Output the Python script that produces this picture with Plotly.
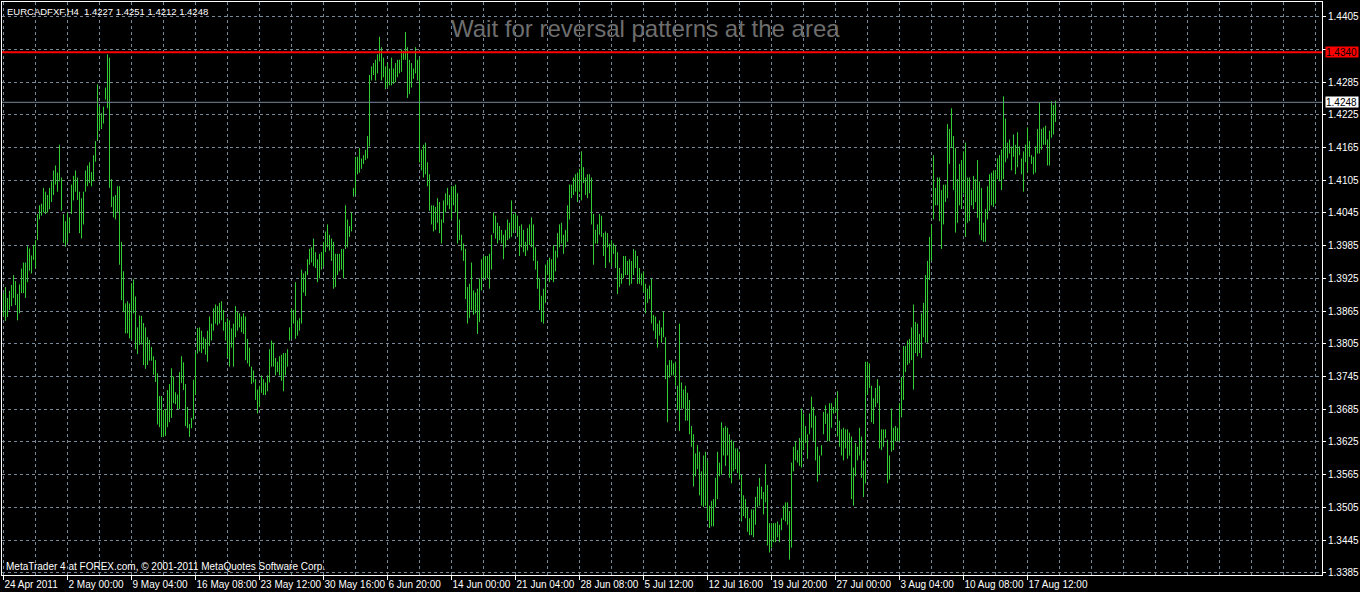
import plotly.graph_objects as go

SYMBOL_HEADER = "EURCADFXF,H4\u00a0\u00a01.4227 1.4251 1.4212 1.4248"
TITLE = "Wait for reversal patterns at the area"
COPYRIGHT = "MetaTrader 4 at FOREX.com, \u00a9 2001-2011 MetaQuotes Software Corp."
RESISTANCE = 1.4340
LAST_PRICE = 1.4248

HIGH = [
    1.3898,1.3909,1.3889,1.3902,1.3913,1.3931,1.3920,1.3896,1.3914,1.3943,1.3954,1.3954,1.3984,1.3980,1.3967,1.3986,
    1.3995,1.4043,1.4059,1.4062,1.4091,1.4084,1.4078,1.4091,1.4103,1.4123,1.4132,1.4119,1.4170,1.4110,1.4043,1.4030,
    1.4046,1.4037,1.4097,1.4113,1.4123,1.4110,1.4084,1.4072,1.4084,1.4123,1.4132,1.4138,1.4120,1.4151,1.4177,1.4281,
    1.4240,1.4228,1.4240,1.4275,1.4336,1.4330,1.4107,1.4075,1.4078,1.4094,1.4094,1.3992,1.3938,1.3879,1.3883,1.3879,
    1.3916,1.3923,1.3892,1.3835,1.3857,1.3856,1.3843,1.3835,1.3817,1.3812,1.3799,1.3782,1.3775,1.3751,1.3709,1.3709,
    1.3683,1.3685,1.3720,1.3731,1.3760,1.3745,1.3716,1.3712,1.3753,1.3782,1.3771,1.3731,1.3689,1.3658,1.3669,1.3739,
    1.3790,1.3834,1.3835,1.3829,1.3817,1.3814,1.3829,1.3855,1.3842,1.3870,1.3877,1.3874,1.3880,1.3883,1.3867,1.3845,
    1.3852,1.3848,1.3833,1.3842,1.3874,1.3864,1.3861,1.3855,1.3861,1.3855,1.3814,1.3798,1.3763,1.3756,1.3740,1.3721,
    1.3728,1.3747,1.3740,1.3734,1.3747,1.3795,1.3811,1.3807,1.3779,1.3772,1.3782,1.3785,1.3788,1.3788,1.3795,1.3835,
    1.3870,1.3867,1.3918,1.3848,1.3852,1.3941,1.3934,1.3938,1.3960,1.3979,1.3982,1.3998,1.3973,1.3960,1.3970,1.3973,
    1.3992,1.4011,1.4024,1.4005,1.3998,1.3992,1.3970,1.3970,1.3970,1.3979,1.3979,1.4059,1.4033,1.4021,1.4046,1.4091,
    1.4148,1.4148,1.4164,1.4145,1.4151,1.4161,1.4186,1.4298,1.4314,1.4320,1.4326,1.4336,1.4368,1.4349,1.4330,1.4314,
    1.4320,1.4310,1.4330,1.4310,1.4320,1.4326,1.4326,1.4345,1.4342,1.4377,1.4349,1.4326,1.4320,1.4310,1.4349,1.4326,
    1.4330,1.4161,1.4170,1.4174,1.4138,1.4116,1.4059,1.4059,1.4056,1.4072,1.4065,1.4033,1.4068,1.4081,1.4091,1.4078,
    1.4094,1.4094,1.4097,1.4081,1.4033,1.4005,1.3989,1.3979,1.3909,1.3915,1.3954,1.3903,1.3899,1.3906,1.3925,1.3960,
    1.3966,1.3966,1.3966,1.3970,1.4005,1.4046,1.4040,1.4027,1.4021,1.4014,1.4005,1.4014,1.4033,1.4027,1.4068,1.4043,
    1.4046,1.4040,1.4021,1.4024,1.4014,1.3992,1.4017,1.4024,1.4037,1.4024,1.3982,1.3957,1.3925,1.3893,1.3906,1.3950,
    1.3957,1.3963,1.3960,1.3986,1.3976,1.4008,1.4024,1.4027,1.4005,1.4014,1.4059,1.4097,1.4097,1.4110,1.4116,1.4119,
    1.4126,1.4158,1.4129,1.4110,1.4116,1.4116,1.4110,1.4043,1.4014,1.4024,1.4043,1.4040,1.4008,1.4011,1.4008,1.3989,
    1.3995,1.3989,1.3986,1.3973,1.3944,1.3934,1.3966,1.3966,1.3957,1.3960,1.3957,1.3979,1.3976,1.3966,1.3944,1.3934,
    1.3938,1.3915,1.3906,1.3912,1.3925,1.3858,1.3855,1.3842,1.3848,1.3835,1.3864,1.3817,1.3766,1.3775,1.3775,1.3769,
    1.3772,1.3728,1.3842,1.3734,1.3721,1.3728,1.3715,1.3702,1.3654,1.3639,1.3604,1.3619,1.3607,1.3571,1.3600,1.3607,
    1.3591,1.3508,1.3517,1.3520,1.3559,1.3607,1.3587,1.3661,1.3651,1.3654,1.3651,1.3639,1.3629,1.3626,1.3613,1.3613,
    1.3607,1.3565,1.3527,1.3520,1.3505,1.3485,1.3501,1.3501,1.3524,1.3543,1.3559,1.3543,1.3533,1.3584,1.3546,1.3476,
    1.3476,1.3476,1.3476,1.3479,1.3473,1.3485,1.3508,1.3514,1.3514,1.3498,1.3587,1.3616,1.3626,1.3610,1.3632,1.3686,
    1.3677,1.3654,1.3639,1.3677,1.3708,1.3689,1.3673,1.3616,1.3600,1.3619,1.3680,1.3692,1.3677,1.3696,1.3696,1.3689,
    1.3705,1.3718,1.3664,1.3648,1.3651,1.3648,1.3648,1.3642,1.3635,1.3578,1.3623,1.3616,1.3651,1.3635,1.3591,1.3772,
    1.3772,1.3769,1.3728,1.3705,1.3724,1.3740,1.3728,1.3648,1.3648,1.3648,1.3629,1.3600,1.3686,1.3651,1.3654,1.3651,
    1.3696,1.3744,1.3801,1.3801,1.3811,1.3814,1.3835,1.3877,1.3845,1.3842,1.3823,1.3861,1.3880,1.3931,1.3957,1.4001,
    1.4024,1.4151,1.4091,1.4110,1.4110,1.4087,1.4097,1.4097,1.4208,1.4199,1.4237,1.4186,1.4164,1.4107,1.4135,1.4142,
    1.4158,1.4174,1.4110,1.4110,1.4087,1.4113,1.4107,1.4142,1.4103,1.4091,1.4027,1.4052,1.4094,1.4116,1.4119,1.4123,
    1.4123,1.4145,1.4151,1.4161,1.4259,1.4218,1.4174,1.4180,1.4167,1.4189,1.4170,1.4193,1.4167,1.4145,1.4158,1.4170,
    1.4202,1.4177,1.4151,1.4148,1.4167,1.4199,1.4247,1.4199,1.4202,1.4205,1.4180,1.4196,1.4250,1.4243,1.4251,
]

LOW = [
    1.3855,1.3847,1.3854,1.3867,1.3874,1.3889,1.3876,1.3848,1.3861,1.3898,1.3898,1.3889,1.3918,1.3939,1.3934,1.3959,
    1.3944,1.3995,1.4033,1.4040,1.4046,1.4043,1.4046,1.4052,1.4065,1.4078,1.4097,1.4084,1.4103,1.4049,1.3990,1.3983,
    1.3990,1.4008,1.4043,1.4068,1.4084,1.4069,1.4008,1.3998,1.4024,1.4084,1.4094,1.4100,1.4094,1.4103,1.4139,1.4177,
    1.4196,1.4199,1.4209,1.4253,1.4237,1.4091,1.4056,1.4037,1.4033,1.4046,1.3950,1.3885,1.3863,1.3824,1.3824,1.3815,
    1.3812,1.3861,1.3795,1.3786,1.3803,1.3804,1.3766,1.3759,1.3766,1.3774,1.3774,1.3748,1.3735,1.3657,1.3652,1.3634,
    1.3634,1.3636,1.3652,1.3661,1.3669,1.3696,1.3694,1.3685,1.3685,1.3733,1.3720,1.3654,1.3650,1.3634,1.3650,1.3666,
    1.3711,1.3787,1.3791,1.3788,1.3795,1.3785,1.3772,1.3801,1.3811,1.3829,1.3842,1.3839,1.3842,1.3848,1.3829,1.3811,
    1.3779,1.3763,1.3798,1.3763,1.3817,1.3829,1.3835,1.3826,1.3823,1.3775,1.3769,1.3763,1.3731,1.3734,1.3702,1.3677,
    1.3689,1.3715,1.3711,1.3711,1.3718,1.3734,1.3763,1.3763,1.3747,1.3753,1.3747,1.3737,1.3718,1.3747,1.3763,1.3811,
    1.3814,1.3842,1.3814,1.3820,1.3829,1.3842,1.3899,1.3893,1.3931,1.3950,1.3954,1.3947,1.3944,1.3918,1.3925,1.3941,
    1.3947,1.3973,1.3982,1.3976,1.3957,1.3906,1.3909,1.3931,1.3938,1.3941,1.3925,1.3979,1.3982,1.4001,1.4011,1.4075,
    1.4078,1.4116,1.4119,1.4126,1.4135,1.4142,1.4145,1.4167,1.4288,1.4298,1.4288,1.4301,1.4323,1.4288,1.4294,1.4272,
    1.4275,1.4279,1.4279,1.4282,1.4285,1.4294,1.4301,1.4304,1.4326,1.4326,1.4256,1.4263,1.4275,1.4291,1.4301,1.4288,
    1.4138,1.4123,1.4110,1.4116,1.4094,1.4049,1.4024,1.4011,1.4014,1.4027,1.4008,1.3989,1.4027,1.4046,1.4059,1.4052,
    1.4033,1.4059,1.4046,1.3989,1.3995,1.3976,1.3957,1.3887,1.3842,1.3852,1.3867,1.3858,1.3861,1.3823,1.3845,1.3903,
    1.3925,1.3922,1.3925,1.3906,1.3941,1.4008,1.3998,1.3989,1.3995,1.3989,1.3960,1.3982,1.3995,1.3998,1.4001,1.4008,
    1.4014,1.4001,1.3966,1.3982,1.3973,1.3966,1.3976,1.3986,1.3982,1.3957,1.3941,1.3906,1.3867,1.3845,1.3842,1.3880,
    1.3931,1.3918,1.3922,1.3918,1.3938,1.3963,1.3982,1.3989,1.3970,1.3982,1.3992,1.4033,1.4072,1.4078,1.4084,1.4065,
    1.4084,1.4068,1.4100,1.4078,1.4072,1.4081,1.4024,1.3950,1.3989,1.3989,1.4005,1.4001,1.3966,1.3944,1.3982,1.3954,
    1.3947,1.3970,1.3944,1.3896,1.3909,1.3915,1.3925,1.3931,1.3931,1.3912,1.3915,1.3931,1.3944,1.3915,1.3915,1.3912,
    1.3899,1.3861,1.3880,1.3887,1.3842,1.3829,1.3814,1.3798,1.3820,1.3807,1.3817,1.3740,1.3661,1.3743,1.3747,1.3747,
    1.3728,1.3683,1.3645,1.3686,1.3686,1.3664,1.3664,1.3639,1.3616,1.3543,1.3562,1.3575,1.3527,1.3508,1.3505,1.3508,
    1.3482,1.3467,1.3470,1.3470,1.3505,1.3520,1.3562,1.3565,1.3600,1.3581,1.3600,1.3559,1.3549,1.3571,1.3575,1.3568,
    1.3556,1.3479,1.3489,1.3485,1.3460,1.3454,1.3454,1.3450,1.3473,1.3505,1.3508,1.3520,1.3492,1.3514,1.3435,1.3422,
    1.3431,1.3441,1.3441,1.3450,1.3441,1.3463,1.3482,1.3479,1.3473,1.3409,1.3431,1.3571,1.3591,1.3587,1.3581,1.3578,
    1.3610,1.3623,1.3594,1.3639,1.3651,1.3626,1.3591,1.3552,1.3565,1.3600,1.3639,1.3658,1.3626,1.3626,1.3651,1.3677,
    1.3680,1.3635,1.3616,1.3600,1.3591,1.3613,1.3594,1.3600,1.3520,1.3508,1.3562,1.3591,1.3600,1.3559,1.3524,1.3549,
    1.3712,1.3724,1.3661,1.3658,1.3689,1.3696,1.3613,1.3610,1.3616,1.3632,1.3549,1.3556,1.3607,1.3610,1.3626,1.3626,
    1.3626,1.3670,1.3702,1.3753,1.3766,1.3769,1.3775,1.3721,1.3788,1.3782,1.3788,1.3779,1.3817,1.3807,1.3807,1.3922,
    1.3957,1.4033,1.4059,1.4059,1.4030,1.3979,1.4024,1.4065,1.4072,1.4135,1.4164,1.4087,1.4009,1.4027,1.4059,1.4052,
    1.4081,1.4001,1.4027,1.4030,1.4059,1.4052,1.4065,1.4036,1.4005,1.3995,1.3992,1.3992,1.4033,1.4049,1.4059,1.4056,
    1.4062,1.4107,1.4103,1.4087,1.4107,1.4138,1.4145,1.4154,1.4123,1.4148,1.4116,1.4129,1.4151,1.4116,1.4084,1.4138,
    1.4119,1.4148,1.4135,1.4116,1.4119,1.4154,1.4154,1.4161,1.4170,1.4170,1.4132,1.4132,1.4183,1.4189,1.4212,
]

TIME_LABELS = ["24 Apr 2011", "2 May 00:00", "9 May 04:00", "16 May 08:00", "23 May 12:00",
               "30 May 16:00", "6 Jun 20:00", "14 Jun 00:00", "21 Jun 04:00", "28 Jun 08:00",
               "5 Jul 12:00", "12 Jul 16:00", "19 Jul 20:00", "27 Jul 00:00", "3 Aug 04:00",
               "10 Aug 08:00", "17 Aug 12:00"]
BARS_PER_LABEL = 32
BARS_PER_GRID = 16
GRID_END_BAR = 656

PRICE_TICKS = [1.3385, 1.3445, 1.3505, 1.3565, 1.3625, 1.3685, 1.3745, 1.3805, 1.3865, 1.3925,
               1.3985, 1.4045, 1.4105, 1.4165, 1.4225, 1.4285, 1.4345, 1.4405]
HIDDEN_PRICE_TICKS = [1.4345]

n = min(len(HIGH), len(LOW))
xs, ys = [], []
for i in range(n):
    xs += [i, i, None]
    ys += [LOW[i], HIGH[i], None]

GRID = "#778899"
BAR = "#32cd32"
FONT = "Liberation Sans, Arial, sans-serif"

fig = go.Figure()
fig.add_trace(go.Scatter(x=xs, y=ys, mode="lines", line=dict(color=BAR, width=1),
                         hoverinfo="skip", showlegend=False))

major = [k * BARS_PER_LABEL for k in range(len(TIME_LABELS))]
minor = [v for v in range(0, GRID_END_BAR + 1, BARS_PER_GRID) if v not in major]

fig.update_xaxes(
    range=[-0.75, 659.25], tickmode="array", tickvals=major, ticktext=TIME_LABELS,
    ticks="outside", ticklen=4, tickcolor="white", tickwidth=1, tickangle=0,
    ticklabelposition="outside right", automargin=False,
    tickfont=dict(family=FONT, size=10, color="white"),
    showgrid=True, gridcolor=GRID, griddash="3px,3px", gridwidth=1,
    minor=dict(tickmode="array", tickvals=minor, showgrid=True, gridcolor=GRID,
               griddash="3px,3px", gridwidth=1, ticks=""),
    showline=True, linecolor="white", linewidth=1, mirror=True, zeroline=False,
)
fig.update_yaxes(
    side="right", range=[1.33808, 1.44320], tickmode="array", tickvals=PRICE_TICKS,
    ticktext=["" if v in HIDDEN_PRICE_TICKS else f"{v:.4f}" for v in PRICE_TICKS],
    ticks="outside", ticklen=3, tickcolor="white", tickwidth=1, automargin=False,
    tickfont=dict(family=FONT, size=10, color="white"),
    showgrid=True, gridcolor=GRID, griddash="3px,3px", gridwidth=1,
    showline=True, linecolor="white", linewidth=1, mirror=True, zeroline=False,
)

fig.add_shape(type="line", xref="paper", x0=0, x1=1, yref="y", y0=LAST_PRICE, y1=LAST_PRICE,
              line=dict(color=GRID, width=1))
fig.add_shape(type="line", xref="paper", x0=0, x1=1, yref="y", y0=RESISTANCE, y1=RESISTANCE,
              line=dict(color="#ff0000", width=2))

fig.add_annotation(x=1, xref="paper", xanchor="left", xshift=3, y=RESISTANCE, yref="y",
                   yanchor="middle", text=f"{RESISTANCE:.4f}", showarrow=False,
                   bgcolor="#ff0000", width=32, height=10, align="left", borderpad=0,
                   font=dict(family=FONT, size=10, color="black"))
fig.add_annotation(x=1, xref="paper", xanchor="left", xshift=3, y=LAST_PRICE, yref="y",
                   yanchor="middle", text=f"{LAST_PRICE:.4f}", showarrow=False,
                   bgcolor="white", width=32, height=10, align="left", borderpad=0,
                   font=dict(family=FONT, size=10, color="black"))

fig.add_annotation(x=0.0023, xref="paper", xanchor="left", y=0.984, yref="paper",
                   yanchor="middle", text=SYMBOL_HEADER, showarrow=False,
                   font=dict(family=FONT, size=9.5, color="white"))
fig.add_annotation(x=0.3386, xref="paper", xanchor="left", y=0.953, yref="paper",
                   yanchor="middle", text=TITLE, showarrow=False,
                   font=dict(family=FONT, size=24, color="#6e6e6e"))
fig.add_annotation(x=0.0015, xref="paper", xanchor="left", y=0.0157, yref="paper",
                   yanchor="middle", text=COPYRIGHT, showarrow=False,
                   font=dict(family=FONT, size=10, color="white"))

fig.update_layout(
    width=1360, height=592, paper_bgcolor="black", plot_bgcolor="black",
    margin=dict(l=2, r=38, t=2, b=17, pad=0), showlegend=False,
)

fig.write_html(
    "out.html",
    config={"displayModeBar": False},
    post_script="document.body.style.margin='0';document.body.style.overflow='hidden';"
                "document.body.style.background='black';",
)
